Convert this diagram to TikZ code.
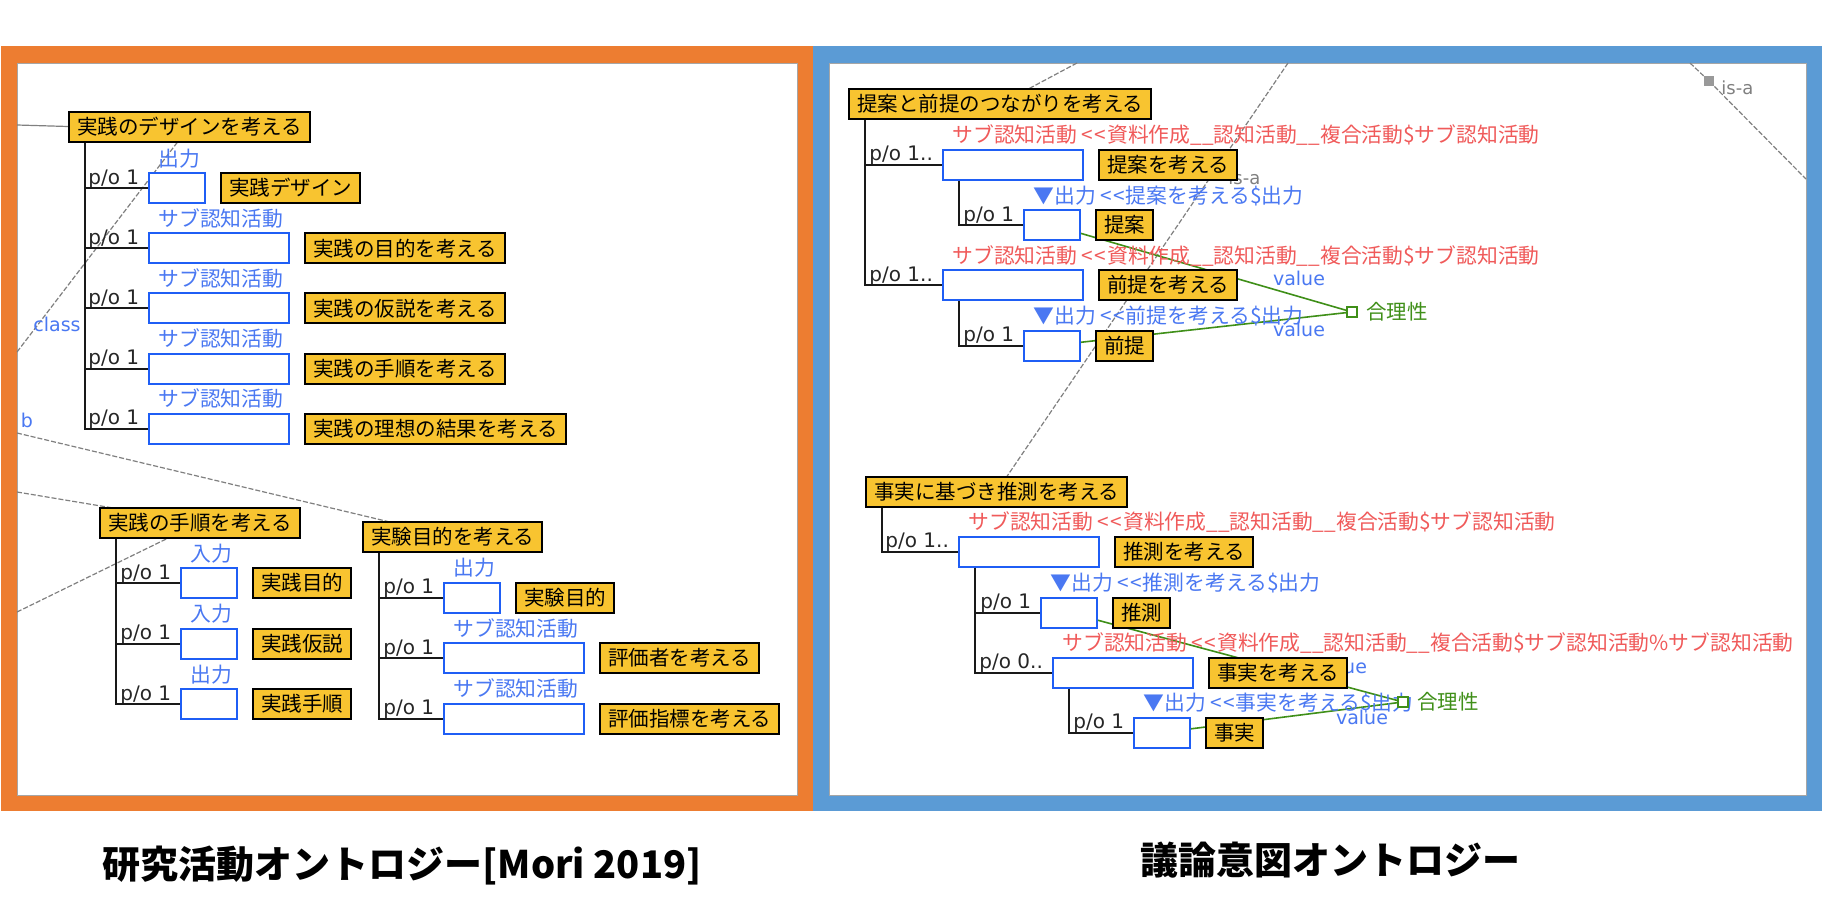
\documentclass[tikz,border=0pt]{standalone}
\usepackage{fontspec}
\setmainfont{Noto Sans CJK JP}
\newfontfamily\latinfont{DejaVu Sans}
\usetikzlibrary{positioning,calc}
\definecolor{panelorange}{HTML}{ED7D31}
\definecolor{panelblue}{HTML}{5B9BD5}
\definecolor{conceptfill}{HTML}{F8C430}
\definecolor{slotblue}{HTML}{1F5EF5}
\definecolor{roleblue}{HTML}{4A78F2}
\definecolor{inheritred}{HTML}{F05A5A}
\definecolor{attrgreen}{HTML}{3F8F18}
\newcommand\jpsize{\fontsize{10.25pt}{12pt}\selectfont}
\newcommand\lblsize{\fontsize{10.4pt}{12pt}\selectfont}
\newcommand\latsize{\latinfont\fontsize{10pt}{12pt}\selectfont}
\newcommand\dlt{<\kern0.6pt<\kern0.6pt}
\pgfdeclarelayer{panel}
\pgfdeclarelayer{links}
\pgfsetlayers{panel,links,main}
\tikzset{
  concept/.style={draw=black,line width=1pt,fill=conceptfill,inner xsep=4pt,
    inner ysep=0pt,minimum height=15pt,font=\jpsize},
  slot/.style={draw=slotblue,line width=1pt,fill=white,inner sep=0pt,
    minimum height=15pt,minimum width=#1},
  slot/.default=28pt,
  role/.style={text=roleblue,font=\lblsize,inner sep=0pt,anchor=base west},
  inherited/.style={text=inheritred,font=\lblsize,inner sep=0pt,anchor=base west},
  partof/.style={text=black!85,font=\latsize,inner sep=0pt,anchor=base west},
  tree/.style={draw=black!90,line width=1pt},
  isaline/.style={draw=gray,line width=0.6pt,dash pattern=on 2.5pt off 1pt},
  isatext/.style={text=gray,font=\latinfont\fontsize{9pt}{11pt}\selectfont,inner sep=0pt},
  attrline/.style={draw=attrgreen,line width=0.8pt},
  attrbox/.style={draw=attrgreen,line width=0.8pt,fill=white,minimum size=5pt,inner sep=0pt},
  attrtext/.style={text=attrgreen,font=\jpsize,inner sep=0pt},
  valtext/.style={text=roleblue,font=\latinfont\fontsize{9.5pt}{11pt}\selectfont,inner sep=0pt},
  caption/.style={font=\bfseries\fontsize{19pt}{22pt}\selectfont,inner sep=0pt}
}

\begin{document}
\begin{tikzpicture}[x=0.5pt,y=-0.5pt]
  \useasboundingbox (0,0) rectangle (1822,910);
  \begin{pgfonlayer}{panel}
    \fill[panelorange] (1,46) rectangle (813,811);
    \fill[panelblue] (813,46) rectangle (1822,811);
    \filldraw[fill=white,draw=black!35,line width=0.5pt] (17,63) rectangle (797,795);
    \filldraw[fill=white,draw=black!35,line width=0.5pt] (829,63) rectangle (1806,795);
  \end{pgfonlayer}

  % research activity ontology
  \node[valtext] (cls) at (57,324) {class};
  \node[valtext] (bnd) at (27,420) {b};
  \node[concept,anchor=west] (design) at (68,126.5) {実践のデザインを考える};
  \foreach \i/\slotw/\rolename/\conceptname in {1/28pt/出力/実践デザイン,
      2/70pt/サブ認知活動/実践の目的を考える,3/70pt/サブ認知活動/実践の仮説を考える,
      4/70pt/サブ認知活動/実践の手順を考える,5/70pt/サブ認知活動/実践の理想の結果を考える}{
    \node[slot=\slotw,anchor=west] (design-s\i) at (148,{188+60.2*(\i-1)}) {};
    \node[role] (design-r\i) at ($(design-s\i.north west)+(10,-6)$) {\rolename};
    \node[concept,right=7pt of design-s\i] (design-c\i) {\conceptname};
    \node[partof] (design-p\i) at ($(design-s\i.west)+(-60,-4)$) {p/o 1};
    \draw[tree] ($(design.south west)+(17,0)$) |- (design-s\i.west);
  }

  \node[concept,anchor=west] (proc) at (99,522.5) {実践の手順を考える};
  \foreach \i/\rolename/\conceptname in {1/入力/実践目的,2/入力/実践仮説,3/出力/実践手順}{
    \node[slot,anchor=west] (proc-s\i) at (180,{583+60.5*(\i-1)}) {};
    \node[role] (proc-r\i) at ($(proc-s\i.north west)+(10,-6)$) {\rolename};
    \node[concept,right=7pt of proc-s\i] (proc-c\i) {\conceptname};
    \node[partof] (proc-p\i) at ($(proc-s\i.west)+(-60,-4)$) {p/o 1};
    \draw[tree] ($(proc.south west)+(17,0)$) |- (proc-s\i.west);
  }

  \node[concept,anchor=west] (expt) at (362,537) {実験目的を考える};
  \foreach \i/\slotw/\rolename/\conceptname in {1/28pt/出力/実験目的,
      2/70pt/サブ認知活動/評価者を考える,3/70pt/サブ認知活動/評価指標を考える}{
    \node[slot=\slotw,anchor=west] (expt-s\i) at (443,{597.5+60.5*(\i-1)}) {};
    \node[role] (expt-r\i) at ($(expt-s\i.north west)+(10,-6)$) {\rolename};
    \node[concept,right=7pt of expt-s\i] (expt-c\i) {\conceptname};
    \node[partof] (expt-p\i) at ($(expt-s\i.west)+(-60,-4)$) {p/o 1};
    \draw[tree] ($(expt.south west)+(17,0)$) |- (expt-s\i.west);
  }

  % argument intention ontology
  \node[isatext,anchor=west] (isa-up) at (1228,178) {is-a};
  \node[isatext,anchor=west] (isa-corner) at (1721,88) {is-a};
  \node[fill=gray!80,minimum size=5pt,inner sep=0pt] (isa-mark) at (1709,81) {};
  \node[valtext] (val1) at (1299,278) {value};
  \node[valtext] (val2) at (1299,329) {value};
  \node[valtext] (val3) at (1341,666) {value};
  \node[valtext] (val4) at (1362,717) {value};

  \node[concept,anchor=west] (link) at (848,104) {提案と前提のつながりを考える};
  \node[slot=70pt,anchor=west] (link-s1) at (942,164.5) {};
  \node[inherited] (link-r1) at ($(link-s1.north west)+(10,-6)$)
    {サブ認知活動 \dlt 資料作成\_\_認知活動\_\_複合活動\$サブ認知活動};
  \node[concept,right=7pt of link-s1] (link-c1) {提案を考える};
  \node[partof] (link-p1) at ($(link-s1.west)+(-73,-4)$) {p/o 1..};
  \node[slot,anchor=west] (link-o1) at (1023,225) {};
  \node[role] (link-q1) at ($(link-o1.north west)+(10,-6)$) {▼出力 \dlt 提案を考える\$出力};
  \node[concept,right=7pt of link-o1] (link-d1) {提案};
  \node[partof] (link-m1) at ($(link-o1.west)+(-60,-4)$) {p/o 1};
  \node[slot=70pt,anchor=west] (link-s2) at (942,285) {};
  \node[inherited] (link-r2) at ($(link-s2.north west)+(10,-6)$)
    {サブ認知活動 \dlt 資料作成\_\_認知活動\_\_複合活動\$サブ認知活動};
  \node[concept,right=7pt of link-s2] (link-c2) {前提を考える};
  \node[partof] (link-p2) at ($(link-s2.west)+(-73,-4)$) {p/o 1..};
  \node[slot,anchor=west] (link-o2) at (1023,345.5) {};
  \node[role] (link-q2) at ($(link-o2.north west)+(10,-6)$) {▼出力 \dlt 前提を考える\$出力};
  \node[concept,right=7pt of link-o2] (link-d2) {前提};
  \node[partof] (link-m2) at ($(link-o2.west)+(-60,-4)$) {p/o 1};
  \draw[tree] ($(link.south west)+(17,0)$) |- (link-s1.west);
  \draw[tree] ($(link.south west)+(17,0)$) |- (link-s2.west);
  \draw[tree] ($(link-s1.south west)+(17,0)$) |- (link-o1.west);
  \draw[tree] ($(link-s2.south west)+(17,0)$) |- (link-o2.west);

  \node[concept,anchor=west] (infer) at (865,491.5) {事実に基づき推測を考える};
  \node[slot=70pt,anchor=west] (infer-s1) at (958,551.5) {};
  \node[inherited] (infer-r1) at ($(infer-s1.north west)+(10,-6)$)
    {サブ認知活動 \dlt 資料作成\_\_認知活動\_\_複合活動\$サブ認知活動};
  \node[concept,right=7pt of infer-s1] (infer-c1) {推測を考える};
  \node[partof] (infer-p1) at ($(infer-s1.west)+(-73,-4)$) {p/o 1..};
  \node[slot,anchor=west] (infer-o1) at (1040,612.5) {};
  \node[role] (infer-q1) at ($(infer-o1.north west)+(10,-6)$) {▼出力 \dlt 推測を考える\$出力};
  \node[concept,right=7pt of infer-o1] (infer-d1) {推測};
  \node[partof] (infer-m1) at ($(infer-o1.west)+(-60,-4)$) {p/o 1};
  \node[slot=70pt,anchor=west] (infer-s2) at (1052,672.5) {};
  \node[inherited] (infer-r2) at ($(infer-s2.north west)+(10,-6)$)
    {サブ認知活動 \dlt 資料作成\_\_認知活動\_\_複合活動\$サブ認知活動\%サブ認知活動};
  \node[concept,right=7pt of infer-s2] (infer-c2) {事実を考える};
  \node[partof] (infer-p2) at ($(infer-s2.west)+(-73,-4)$) {p/o 0..};
  \node[slot,anchor=west] (infer-o2) at (1133,732.5) {};
  \node[role] (infer-q2) at ($(infer-o2.north west)+(10,-6)$) {▼出力 \dlt 事実を考える\$出力};
  \node[concept,right=7pt of infer-o2] (infer-d2) {事実};
  \node[partof] (infer-m2) at ($(infer-o2.west)+(-60,-4)$) {p/o 1};
  \draw[tree] ($(infer.south west)+(17,0)$) |- (infer-s1.west);
  \draw[tree] ($(infer-s1.south west)+(17,0)$) |- (infer-o1.west);
  \draw[tree] ($(infer-s1.south west)+(17,0)$) |- (infer-s2.west);
  \draw[tree] ($(infer-s2.south west)+(17,0)$) |- (infer-o2.west);

  \node[attrbox] (rat-box1) at (1352,312) {};
  \node[attrtext,right=4pt of rat-box1] (rat-text1) {合理性};
  \node[attrbox] (rat-box2) at (1403,702) {};
  \node[attrtext,right=4pt of rat-box2] (rat-text2) {合理性};

  \node[caption] (cap-left) at (402,866) {研究活動オントロジー[Mori 2019]};
  \node[caption] (cap-right) at (1330,860) {議論意図オントロジー};

  \begin{pgfonlayer}{links}
    \coordinate (edge-a) at (17,125);
    \coordinate (edge-b) at (17,352);
    \coordinate (edge-c) at (17,433);
    \coordinate (edge-d) at (17,492);
    \coordinate (edge-e) at (17,612);
    \coordinate (edge-f) at (1077,63);
    \coordinate (edge-g) at (1288,63);
    \coordinate (edge-h) at (1690,63);
    \coordinate (edge-i) at (1806,179);
    \draw[draw=gray,line width=0.6pt] (edge-a) -- (design.west);
    \draw[isaline] (edge-b) -- (design.center);
    \draw[isaline] (edge-c) -- (expt.center);
    \draw[isaline] (edge-d) -- (proc.center);
    \draw[isaline] (edge-e) -- (proc.center);
    \draw[isaline] (edge-f) -- (link.center);
    \draw[isaline] (edge-g) -- (infer.center);
    \draw[isaline] (edge-h) -- (isa-mark) -- (edge-i);
    \draw[attrline] (link-o1.center) -- (rat-box1.center);
    \draw[attrline] (link-o2.center) -- (rat-box1.center);
    \draw[attrline] (infer-o1.center) -- (rat-box2.center);
    \draw[attrline] (infer-o2.center) -- (rat-box2.center);
  \end{pgfonlayer}
\end{tikzpicture}
\end{document}
